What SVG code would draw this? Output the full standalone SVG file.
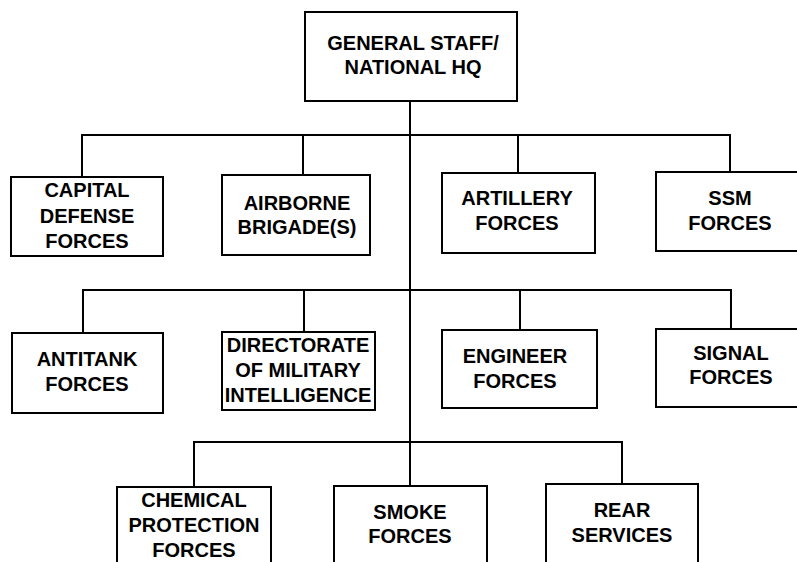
<svg xmlns="http://www.w3.org/2000/svg" width="797" height="562" viewBox="0 0 797 562">
<style>
.box{fill:#fff;stroke:#000;stroke-width:2}
.ln{fill:none;stroke:#000;stroke-width:2}
text{font-family:"Liberation Sans",Arial,sans-serif;font-weight:bold;font-size:20px;fill:#000;text-anchor:middle}
</style>
<rect width="797" height="562" fill="#fff"/>
<g id="connectors">
<path class="ln" d="M410 101V486"/>
<path class="ln" d="M82 177V135H730V172M303 135V175M518 135V173"/>
<path class="ln" d="M83 333V290H731V329M304 290V332M520 290V330"/>
<path class="ln" d="M194 487V442H622V484"/>
</g>
<g id="hq"><rect class="box" x="305" y="12" width="212" height="89"/><text x="413" y="50">GENERAL STAFF/</text><text x="413" y="74">NATIONAL HQ</text></g>
<g id="capital"><rect class="box" x="11" y="177" width="152" height="79"/><text x="87" y="197">CAPITAL</text><text x="87" y="223">DEFENSE</text><text x="87" y="248">FORCES</text></g>
<g id="airborne"><rect class="box" x="222" y="175" width="148" height="80"/><text x="297" y="210">AIRBORNE</text><text x="297" y="234">BRIGADE(S)</text></g>
<g id="artillery"><rect class="box" x="442" y="173" width="153" height="80"/><text x="517" y="205">ARTILLERY</text><text x="517" y="230">FORCES</text></g>
<g id="ssm"><rect class="box" x="656" y="172" width="150" height="79"/><text x="730" y="205">SSM</text><text x="730" y="230">FORCES</text></g>
<g id="antitank"><rect class="box" x="12" y="333" width="151" height="80"/><text x="87" y="366">ANTITANK</text><text x="87" y="391">FORCES</text></g>
<g id="directorate"><rect class="box" x="222" y="332" width="153" height="78"/><text x="298" y="352">DIRECTORATE</text><text x="298" y="377">OF MILITARY</text><text x="298" y="402">INTELLIGENCE</text></g>
<g id="engineer"><rect class="box" x="442" y="330" width="155" height="78"/><text x="515" y="363">ENGINEER</text><text x="515" y="388">FORCES</text></g>
<g id="signal"><rect class="box" x="656" y="329" width="150" height="78"/><text x="731" y="360">SIGNAL</text><text x="731" y="384">FORCES</text></g>
<g id="chemical"><rect class="box" x="117" y="487" width="154" height="90"/><text x="194" y="507">CHEMICAL</text><text x="194" y="532">PROTECTION</text><text x="194" y="557">FORCES</text></g>
<g id="smoke"><rect class="box" x="334" y="486" width="153" height="90"/><text x="410" y="519">SMOKE</text><text x="410" y="543">FORCES</text></g>
<g id="rear"><rect class="box" x="546" y="484" width="152" height="90"/><text x="622" y="517">REAR</text><text x="622" y="542">SERVICES</text></g>
</svg>
